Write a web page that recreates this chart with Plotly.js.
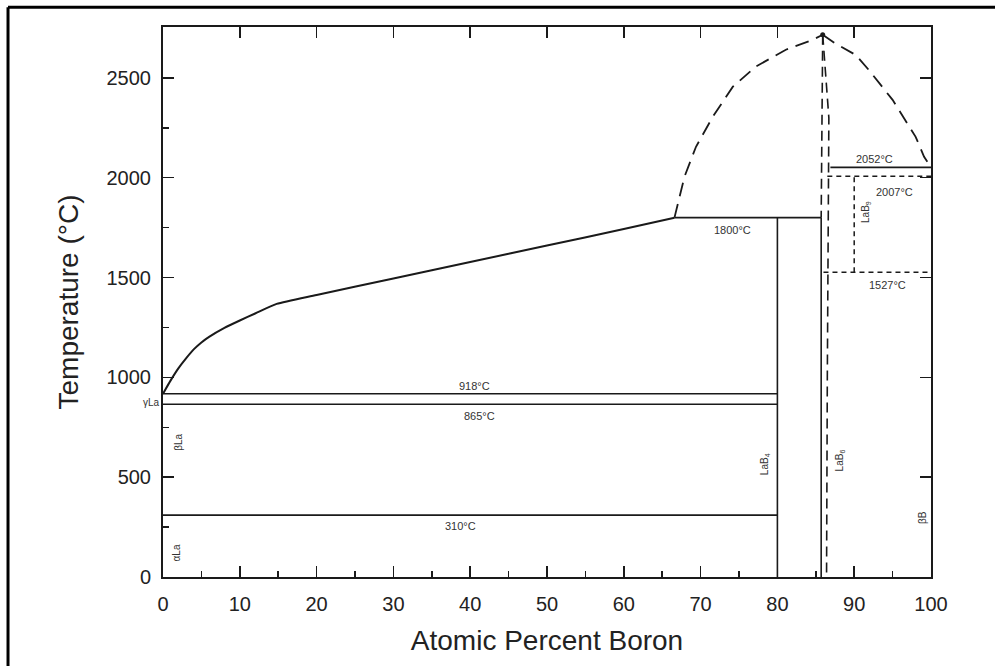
<!DOCTYPE html>
<html>
<head>
<meta charset="utf-8">
<script src="https://cdn.plot.ly/plotly-3.0.1.min.js"></script>
<style>
html,body{margin:0;padding:0;background:#fff;}
#chart{width:995px;height:666px;}
</style>
</head>
<body>
<div id="chart"></div>
<script>
// La-rich liquidus (solid)
const liqLaX = [0, 1, 2, 3, 4, 5, 6, 8, 10, 12, 14.8, 20, 30, 40, 50, 60, 66.6];
const liqLaY = [918, 985, 1045, 1095, 1140, 1175, 1203, 1248, 1285, 1320, 1368, 1413, 1495, 1578, 1660, 1743, 1800];
// Liquidus above eutectic up to LaB6 congruent melting (dashed)
const liqHighX = [66.6, 67.9, 69.4, 71.6, 74.2, 77.2, 81.1, 84.6, 85.9];
const liqHighY = [1800, 2005, 2155, 2306, 2456, 2557, 2641, 2691, 2716];
// B-rich liquidus (dashed)
const liqBX = [85.9, 87.4, 90.2, 91.9, 95.0, 96.7, 98.0, 99.1, 100];
const liqBY = [2716, 2676, 2615, 2540, 2390, 2289, 2205, 2105, 2052];
// LaB6 homogeneity boundaries
const lab6LeftX = [85.9, 85.7];
const lab6LeftY = [2716, 1800];
const lab6RightX = [85.9, 86.7, 86.5, 86.4];
const lab6RightY = [2716, 2300, 1000, 0];
const lab6SolidX = [85.7, 85.7];
const lab6SolidY = [1800, 0];
// LaB4 line compound
const lab4X = [80, 80];
const lab4Y = [0, 1800];
// Isotherms (solid): [x0, x1, T]
const isoSolidX0 = [0, 0, 0, 66.6, 86.9];
const isoSolidX1 = [80, 80, 80, 85.7, 100];
const isoSolidT  = [918, 865, 310, 1800, 2052];
// Isotherms (short dashed)
const isoDashX0 = [86.5, 86.0];
const isoDashX1 = [100, 100];
const isoDashT  = [2007, 1527];
// LaB9 (dashed)
const lab9X = [90, 90];
const lab9Y = [1527, 2007];
// Peak point
const peakX = [85.9];
const peakY = [2716];

// Labels
const labelText = ['918°C', '865°C', '310°C', '1800°C', '2052°C', '2007°C', '1527°C'];
const labelX    = [40.6, 41.2, 38.8, 74.1, 92.6, 95.2, 94.3];
const labelY    = [958, 806, 256, 1737, 2093, 1929, 1461];
const phaseText = ['γLa', 'βLa', 'αLa', 'LaB<sub>4</sub>', 'LaB<sub>6</sub>', 'LaB<sub>9</sub>', 'βB'];
const phaseX    = [-0.1, 2.0, 1.8, 78.3, 88.2, 91.6, 98.9];
const phaseY    = [875, 674, 122, 567, 586, 1831, 298];
const phaseAngle= [0, -90, -90, -90, -90, -90, -90];

// Tick values
const xTicks = [0, 10, 20, 30, 40, 50, 60, 70, 80, 90, 100];
const yTicks = [0, 500, 1000, 1500, 2000, 2500];

const ink = '#1a1a1a';
const solid = {color: ink, width: 1.6};
const thick = {color: ink, width: 2, shape: 'spline', smoothing: 0.6};
const longDash = {color: ink, width: 1.8, dash: '14px,8px'};
const midDash = {color: ink, width: 1.6, dash: '10px,6px'};
const shortDash = {color: ink, width: 1.5, dash: '5px,4px'};

const traces = [];
function line(x, y, style) {
  traces.push({x: x, y: y, mode: 'lines', line: style, hoverinfo: 'skip', showlegend: false});
}
line(liqLaX, liqLaY, thick);
line(liqHighX, liqHighY, longDash);
line(liqBX, liqBY, longDash);
line(lab6LeftX, lab6LeftY, midDash);
line(lab6RightX, lab6RightY, midDash);
line(lab6SolidX, lab6SolidY, solid);
line(lab4X, lab4Y, solid);
for (let i = 0; i < isoSolidT.length; i++) {
  line([isoSolidX0[i], isoSolidX1[i]], [isoSolidT[i], isoSolidT[i]], solid);
}
for (let i = 0; i < isoDashT.length; i++) {
  line([isoDashX0[i], isoDashX1[i]], [isoDashT[i], isoDashT[i]], shortDash);
}
line(lab9X, lab9Y, shortDash);
traces.push({x: peakX, y: peakY, mode: 'markers', marker: {color: ink, size: 5}, hoverinfo: 'skip', showlegend: false});
// invisible trace for mirrored tick axes
traces.push({x: [0], y: [0], xaxis: 'x2', yaxis: 'y2', mode: 'markers', marker: {opacity: 0}, hoverinfo: 'skip', showlegend: false});

const annotations = [];
for (let i = 0; i < labelText.length; i++) {
  annotations.push({x: labelX[i], y: labelY[i], text: labelText[i], showarrow: false,
    font: {family: 'Liberation Sans, Arial, sans-serif', size: 11, color: '#333'}});
}
for (let i = 0; i < phaseText.length; i++) {
  const outside = phaseX[i] < 0;
  annotations.push({xref: outside ? 'paper' : 'x', x: outside ? phaseX[i] / 100 : phaseX[i], y: phaseY[i],
    xanchor: outside ? 'right' : 'center',
    text: phaseText[i], showarrow: false, textangle: phaseAngle[i],
    font: {family: 'Liberation Sans, Arial, sans-serif', size: 10, color: '#333'}});
}

const axisCommon = {
  showgrid: false, zeroline: false, showline: true, linecolor: ink, linewidth: 2,
  mirror: true, ticks: 'inside', tickcolor: ink, tickwidth: 1.5, ticklen: 11,
  tickfont: {family: 'Liberation Sans, Arial, sans-serif', size: 20, color: '#222'}
};

const layout = {
  width: 995, height: 666, autosize: false,
  margin: {l: 163, r: 64, t: 27, b: 89},
  paper_bgcolor: '#fff', plot_bgcolor: '#fff',
  font: {family: 'Liberation Sans, Arial, sans-serif', color: '#222'},
  xaxis: Object.assign({}, axisCommon, {
    range: [0, 100], tickvals: xTicks, ticktext: xTicks.map(String),
    ticklabelstandoff: 8,
    minor: {dtick: 5, tick0: 0, ticks: 'inside', ticklen: 6, tickwidth: 1.5, tickcolor: ink},
    title: {text: 'Atomic Percent Boron', font: {size: 28, color: '#222'}, standoff: 16}
  }),
  yaxis: Object.assign({}, axisCommon, {
    range: [0, 2755], tickvals: yTicks, ticktext: yTicks.map(String),
    ticklabelstandoff: 6,
    minor: {dtick: 250, tick0: 0, ticks: 'inside', ticklen: 6, tickwidth: 1.5, tickcolor: ink},
    title: {text: 'Temperature (°C)', font: {size: 28, color: '#222'}, standoff: 20}
  }),
  xaxis2: {overlaying: 'x', side: 'top', range: [0, 100], tickvals: xTicks, showticklabels: false,
    ticks: 'inside', ticklen: 11, tickwidth: 1.5, tickcolor: ink, showgrid: false, zeroline: false, showline: false},
  yaxis2: {overlaying: 'y', side: 'right', range: [0, 2755], tickvals: yTicks, showticklabels: false,
    ticks: 'inside', ticklen: 11, tickwidth: 1.5, tickcolor: ink, showgrid: false, zeroline: false, showline: false},
  annotations: annotations,
  shapes: [
    {type: 'line', xref: 'paper', yref: 'paper', x0: -0.2018, x1: 1.09, y0: 1.036, y1: 1.036, line: {color: '#000', width: 3}},
    {type: 'line', xref: 'paper', yref: 'paper', x0: -0.2018, x1: -0.2018, y0: 1.036, y1: -0.17, line: {color: '#000', width: 3}}
  ]
};

Plotly.newPlot('chart', traces, layout, {displayModeBar: false, staticPlot: true});
</script>
</body>
</html>
